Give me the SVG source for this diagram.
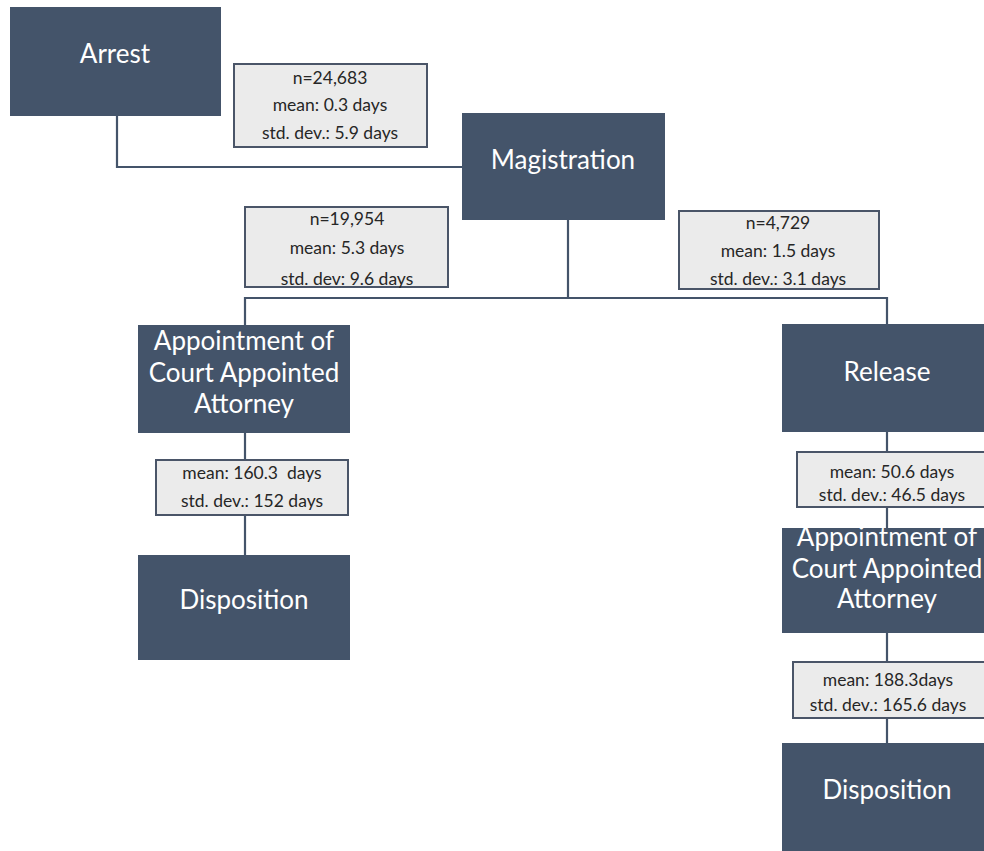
<svg xmlns="http://www.w3.org/2000/svg" width="984" height="851" viewBox="0 0 984 851">
<style>
.node{fill:#44546A;}
.nt{fill:#FFFFFF;font-family:Lato,"Open Sans","Liberation Sans",sans-serif;font-size:26px;text-anchor:middle;}
.st{fill:#EBEBEB;stroke:#4A5568;stroke-width:2;}
.stt{fill:#262626;font-family:Lato,"Open Sans","Liberation Sans",sans-serif;font-size:17.5px;text-anchor:middle;white-space:pre;}
.ln{fill:none;stroke:#44546A;stroke-width:2.2;}
</style>
<rect width="984" height="851" fill="#FFFFFF"/>
<g id="connectors">
<polyline class="ln" points="117,116 117,167 462,167"/>
<line class="ln" x1="568" y1="220" x2="568" y2="298"/>
<polyline class="ln" points="245,325 245,298 887,298 887,324"/>
<line class="ln" x1="245" y1="433" x2="245" y2="555"/>
<line class="ln" x1="887" y1="432" x2="887" y2="528"/>
<line class="ln" x1="887" y1="633" x2="887" y2="743"/>
</g>
<g id="arrest">
<rect class="node" x="10" y="7" width="211" height="109"/>
<text class="nt" x="115" y="63">Arrest</text>
</g>
<g id="stats-arrest-magistration">
<rect class="st" x="234" y="64" width="193" height="83"/>
<text class="stt" x="330" y="84">n=24,683</text>
<text class="stt" x="330" y="111">mean: 0.3 days</text>
<text class="stt" x="330" y="139">std. dev.: 5.9 days</text>
</g>
<g id="magistration">
<rect class="node" x="462" y="113" width="203" height="107"/>
<text class="nt" x="563" y="169">Magistration</text>
</g>
<g id="stats-magistration-appointment">
<rect class="st" x="245" y="207" width="203" height="80"/>
<text class="stt" x="347" y="225">n=19,954</text>
<text class="stt" x="347" y="254">mean: 5.3 days</text>
<text class="stt" x="347" y="285">std. dev: 9.6 days</text>
</g>
<g id="stats-magistration-release">
<rect class="st" x="679" y="211" width="200" height="78"/>
<text class="stt" x="778" y="229">n=4,729</text>
<text class="stt" x="778" y="257">mean: 1.5 days</text>
<text class="stt" x="778" y="285">std. dev.: 3.1 days</text>
</g>
<g id="appointment-left">
<rect class="node" x="138" y="325" width="212" height="108"/>
<text class="nt" x="244" y="350">Appointment of</text>
<text class="nt" x="244" y="382">Court Appointed</text>
<text class="nt" x="244" y="413">Attorney</text>
</g>
<g id="stats-appointment-disposition-left">
<rect class="st" x="156" y="460" width="192" height="55"/>
<text class="stt" x="252" y="479">mean: 160.3  days</text>
<text class="stt" x="252" y="507">std. dev.: 152 days</text>
</g>
<g id="disposition-left">
<rect class="node" x="138" y="555" width="212" height="105"/>
<text class="nt" x="244" y="609">Disposition</text>
</g>
<g id="release">
<rect class="node" x="782" y="324" width="212" height="108"/>
<text class="nt" x="887" y="381">Release</text>
</g>
<g id="stats-release-appointment">
<rect class="st" x="797" y="452" width="197" height="55"/>
<text class="stt" x="892" y="478">mean: 50.6 days</text>
<text class="stt" x="892" y="501">std. dev.: 46.5 days</text>
</g>
<g id="appointment-right">
<rect class="node" x="782" y="528" width="212" height="105"/>
<text class="nt" x="887" y="546">Appointment of</text>
<text class="nt" x="887" y="578">Court Appointed</text>
<text class="nt" x="887" y="608">Attorney</text>
</g>
<g id="stats-appointment-disposition-right">
<rect class="st" x="793" y="662" width="201" height="56"/>
<text class="stt" x="888" y="686">mean: 188.3days</text>
<text class="stt" x="888" y="711">std. dev.: 165.6 days</text>
</g>
<g id="disposition-right">
<rect class="node" x="782" y="743" width="212" height="118"/>
<text class="nt" x="887" y="799">Disposition</text>
</g>
</svg>
